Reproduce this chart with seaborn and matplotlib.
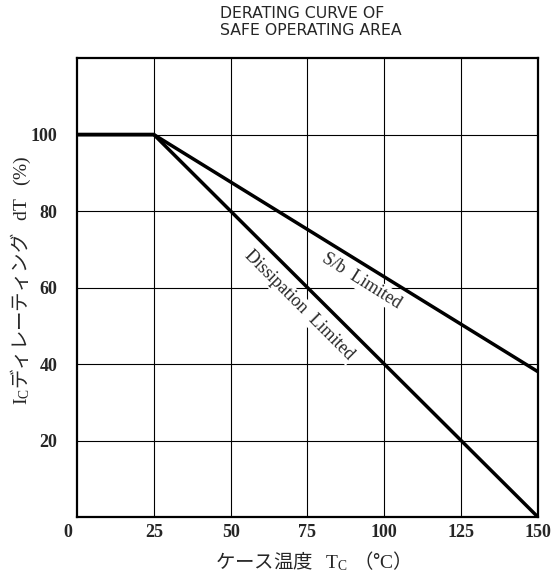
import pandas as pd
import matplotlib
matplotlib.use("Agg")
import matplotlib.pyplot as plt
import seaborn as sns

# Derating curve data
tc = [0, 25, 150]
sb_limited = [100, 100, 38]
dissipation_limited = [100, 100, 0]

x_ticks = [25, 50, 75, 100, 125, 150]
y_ticks = [20, 40, 60, 80, 100]

df = pd.DataFrame({
    "Tc": tc + tc,
    "dT": sb_limited + dissipation_limited,
    "curve": ["S/b Limited"] * 3 + ["Dissipation Limited"] * 3,
})

sns.set_style("white")
plt.rcParams["font.family"] = ["Liberation Serif", "Noto Sans CJK JP", "DejaVu Sans"]
plt.rcParams["mathtext.fontset"] = "custom"
plt.rcParams["mathtext.rm"] = "Liberation Serif"

fig = plt.figure(figsize=(5.58, 5.78), dpi=100)
ax = fig.add_axes([0.138, 0.1055, 0.826, 0.794])

sns.lineplot(data=df, x="Tc", y="dT", units="curve", estimator=None,
             color="black", linewidth=2.5, legend=False, ax=ax, zorder=3)

ax.set_xlim(0, 150)
ax.set_ylim(0, 120)
ax.set_xticks(x_ticks)
ax.set_yticks(y_ticks)
ax.grid(True, color="black", linewidth=0.8)
for s in ax.spines.values():
    s.set_color("black")
    s.set_linewidth(1.6)
ax.tick_params(axis="both", length=0, labelsize=13)
ax.tick_params(axis="y", pad=14)
ax.tick_params(axis="x", pad=5)
for lab in ax.get_xticklabels() + ax.get_yticklabels():
    lab.set_fontweight("bold")
ax.text(-0.01, -0.015, "0", transform=ax.transAxes, ha="right", va="top",
        fontsize=13, fontweight="bold")

# non-math parts use the CJK font, math parts use the serif font
ax.set_xlabel("ケース温度   $\\mathrm{T_C\\ }$（°$\\mathrm{C}$）", fontsize=14,
              family="Noto Sans CJK JP", labelpad=6)
ax.set_ylabel("$\\mathrm{I_C}$ディレーティング   $\\mathrm{dT\\ \\ (\\%)}$", fontsize=14,
              family="Noto Sans CJK JP")
ax.yaxis.set_label_coords(-0.095, 0.515)

# Curve labels
box = dict(facecolor="white", edgecolor="none", pad=1)
ax.text(92.7, 61.6, "S/b  Limited", rotation=-32, ha="center", va="center",
        fontsize=13, bbox=box, zorder=4)
ax.text(72.4, 55.3, "Dissipation  Limited", rotation=-45, ha="center", va="center",
        fontsize=13, bbox=box, zorder=4)

fig.text(0.394, 0.962, "DERATING CURVE OF\nSAFE OPERATING AREA", ha="left", va="center",
         fontsize=11.3, family=["Liberation Sans Narrow", "DejaVu Sans"], linespacing=1.1)

plt.savefig("out.png", dpi=100)
